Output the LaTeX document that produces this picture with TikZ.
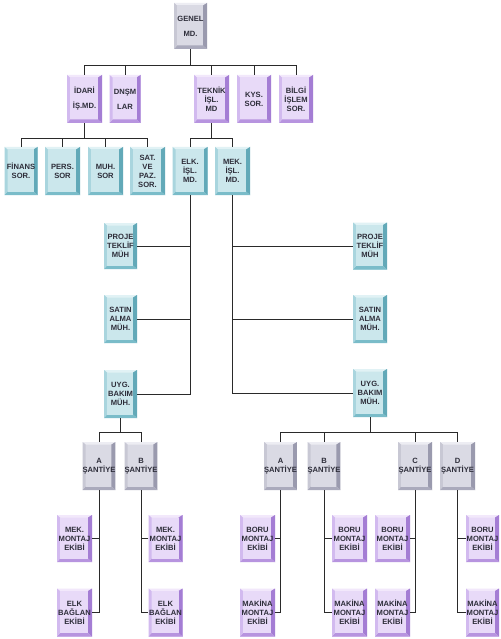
\documentclass[tikz,border=0pt]{standalone}
\usepackage{fontspec}
\setmainfont{Liberation Sans}
\definecolor{txt}{HTML}{2E2E3A}
\definecolor{ln}{HTML}{2A2A2A}
% gray
\definecolor{grF}{HTML}{DADAE4}
\definecolor{grT}{HTML}{EDEDF3}
\definecolor{grL}{HTML}{C8C8D4}
\definecolor{grR}{HTML}{9A9AAE}
\definecolor{grB}{HTML}{AAAABC}
% purple
\definecolor{puF}{HTML}{E8DAF8}
\definecolor{puT}{HTML}{F2E8FB}
\definecolor{puL}{HTML}{D2BAEF}
\definecolor{puR}{HTML}{A47DD4}
\definecolor{puB}{HTML}{B794DF}
% cyan
\definecolor{cyF}{HTML}{CBE7EC}
\definecolor{cyT}{HTML}{E1F2F5}
\definecolor{cyL}{HTML}{A9D5DE}
\definecolor{cyR}{HTML}{62A9B8}
\definecolor{cyB}{HTML}{7ABCC9}
\newcommand\bevelpic[1]{%
 \coordinate (bNW) at (path picture bounding box.north west);
 \coordinate (bSE) at (path picture bounding box.south east);
 \coordinate (bNE) at (path picture bounding box.north east);
 \coordinate (bSW) at (path picture bounding box.south west);
 \coordinate (iNW) at ([xshift=3pt,yshift=-2.5pt]bNW);
 \coordinate (iNE) at ([xshift=-4pt,yshift=-2.5pt]bNE);
 \coordinate (iSE) at ([xshift=-4pt,yshift=3.5pt]bSE);
 \coordinate (iSW) at ([xshift=3pt,yshift=3.5pt]bSW);
 \fill[#1T] (bNW)--(bNE)--(iNE)--(iNW)--cycle;
 \fill[#1R] (bNE)--(bSE)--(iSE)--(iNE)--cycle;
 \fill[#1B] (bSE)--(bSW)--(iSW)--(iSE)--cycle;
 \fill[#1L] (bSW)--(bNW)--(iNW)--(iSW)--cycle;
 \fill[#1F] (iNW) rectangle (iSE);
}
\newcommand\lbl{\fontsize{7.6}{9}\selectfont\bfseries}
\newcommand\lblw{\fontsize{7.6}{15}\selectfont\bfseries}
\tikzset{
 bx/.style={rectangle, minimum width=34pt, minimum height=48pt, inner sep=0pt,
   align=center, font=\lbl, text=txt, fill=#1F, path picture={\bevelpic{#1}}},
 gbox/.style={bx=gr},
 pbox/.style={bx=pu},
 cbox/.style={bx=cy},
 conn/.style={draw=ln, line width=0.8pt}
}
\begin{document}
\begin{tikzpicture}[x=1pt,y=-1pt]
\fill[white] (0,0) rectangle (500,639);
\useasboundingbox (0,0) rectangle (500,639);
% level 1
\node[gbox, minimum width=33pt, minimum height=46pt, font=\lblw] (gen) at (190.5,26) {GENEL\\MD.};
% level 2
\node[pbox, minimum width=35pt, font=\lblw] (idari) at (84.5,99) {İDARİ\\İŞ.MD.};
\node[pbox, minimum width=31pt, font=\lblw] (dnsm) at (125,99) {DNŞM\\LAR};
\node[pbox, minimum width=35pt] (teknik) at (211.5,99) {TEKNİK\\İŞL.\\MD};
\node[pbox] (kys) at (254,99) {KYS.\\SOR.};
\node[pbox] (bilgi) at (296,99) {BİLGİ\\İŞLEM\\SOR.};
% level 3
\node[cbox, minimum width=33pt] (finans) at (21,171) {FİNANS\\SOR.};
\node[cbox, minimum width=35pt] (pers) at (62.5,171) {PERS.\\SOR};
\node[cbox, minimum width=35pt] (muh) at (105.5,171) {MUH.\\SOR};
\node[cbox, minimum width=35pt] (sat) at (147.5,171) {SAT.\\VE\\PAZ.\\SOR.};
\node[cbox, minimum width=35pt] (elk) at (190,171) {ELK.\\İŞL.\\MD.};
\node[cbox, minimum width=35pt] (mek) at (232.5,171) {MEK.\\İŞL.\\MD.};
% columns
\node[cbox, minimum width=33pt, minimum height=46pt] (projeL) at (120.5,246) {PROJE\\TEKLİF\\MÜH};
\node[cbox, minimum width=33pt] (satinL) at (120.5,319) {SATIN\\ALMA\\MÜH.};
\node[cbox, minimum width=33pt] (uygL) at (120.5,394) {UYG.\\BAKIM\\MÜH.};
\node[cbox, minimum width=34pt, minimum height=47pt] (projeR) at (370,246) {PROJE\\TEKLİF\\MÜH};
\node[cbox, minimum width=34pt] (satinR) at (370,319) {SATIN\\ALMA\\MÜH.};
\node[cbox, minimum width=34pt] (uygR) at (370,393) {UYG.\\BAKIM\\MÜH.};
% santiye
\node[gbox, minimum width=32pt] (aL) at (99,466) {A\\ŞANTİYE};
\node[gbox, minimum width=32pt] (bL) at (141,466) {B\\ŞANTİYE};
\node[gbox, minimum width=32pt] (aR) at (280.5,466) {A\\ŞANTİYE};
\node[gbox, minimum width=32pt] (bR) at (324,466) {B\\ŞANTİYE};
\node[gbox, minimum width=34pt] (cR) at (415,466) {C\\ŞANTİYE};
\node[gbox, minimum width=35pt] (dR) at (457.5,466) {D\\ŞANTİYE};
% teams
\node[pbox, minimum width=35pt, minimum height=47pt] (mekL1) at (74.5,538.5) {MEK.\\MONTAJ\\EKİBİ};
\node[pbox, minimum width=35pt] (elkL1) at (74.5,612.5) {ELK\\BAĞLAN\\EKİBİ};
\node[pbox, minimum width=34pt, minimum height=47pt] (mekL2) at (165.5,538.5) {MEK.\\MONTAJ\\EKİBİ};
\node[pbox, minimum width=34pt] (elkL2) at (165.5,612.5) {ELK\\BAĞLAN\\EKİBİ};
\node[pbox, minimum width=35pt, minimum height=47pt] (boruA) at (257.5,538.5) {BORU\\MONTAJ\\EKİBİ};
\node[pbox, minimum width=35pt] (makA) at (257.5,612.5) {MAKİNA\\MONTAJ\\EKİBİ};
\node[pbox, minimum width=35pt, minimum height=47pt] (boruB) at (349.5,538.5) {BORU\\MONTAJ\\EKİBİ};
\node[pbox, minimum width=35pt] (makB) at (349.5,612.5) {MAKİNA\\MONTAJ\\EKİBİ};
\node[pbox, minimum width=35pt, minimum height=47pt] (boruC) at (392.5,538.5) {BORU\\MONTAJ\\EKİBİ};
\node[pbox, minimum width=35pt] (makC) at (392.5,612.5) {MAKİNA\\MONTAJ\\EKİBİ};
\node[pbox, minimum width=33pt, minimum height=47pt] (boruD) at (482.5,538.5) {BORU\\MONTAJ\\EKİBİ};
\node[pbox, minimum width=33pt] (makD) at (482.5,612.5) {MAKİNA\\MONTAJ\\EKİBİ};
% bus coordinates
\coordinate (bus1) at (190.5,65);
\coordinate (bus2) at (0,138);
\coordinate (busL) at (120.5,432);
\coordinate (busR) at (369,432);
% connectors level 1-2
\draw[conn] (gen.south) -- (bus1);
\draw[conn] (idari.north) -- (idari.north |- bus1) -- (bilgi.north |- bus1) -- (bilgi.north);
\draw[conn] (dnsm.north) -- (dnsm.north |- bus1);
\draw[conn] (teknik.north) -- (teknik.north |- bus1);
\draw[conn] (kys.north) -- (kys.north |- bus1);
% idari children
\draw[conn] (idari.south) -- (idari.south |- bus2);
\draw[conn] (finans.north) -- (finans.north |- bus2) -- (sat.north |- bus2) -- (sat.north);
\draw[conn] (pers.north) -- (pers.north |- bus2);
\draw[conn] (muh.north) -- (muh.north |- bus2);
% teknik children
\draw[conn] (teknik.south) -- (teknik.south |- bus2);
\draw[conn] (elk.north) -- (elk.north |- bus2) -- (mek.north |- bus2) -- (mek.north);
% elk column
\draw[conn] (elk.south) |- (uygL.east);
\draw[conn] (projeL.east) -- (projeL.east -| elk.south);
\draw[conn] (satinL.east) -- (satinL.east -| elk.south);
% mek column
\draw[conn] (mek.south) |- (uygR.west);
\draw[conn] (projeR.west) -- (projeR.west -| mek.south);
\draw[conn] (satinR.west) -- (satinR.west -| mek.south);
% santiye buses
\draw[conn] (uygL.south) -- (busL);
\draw[conn] (aL.north) -- (aL.north |- busL) -- (bL.north |- busL) -- (bL.north);
\draw[conn] (uygR.south) -- (uygR.south |- busR);
\draw[conn] (aR.north) -- (aR.north |- busR) -- (dR.north |- busR) -- (dR.north);
\draw[conn] (bR.north) -- (bR.north |- busR);
\draw[conn] (cR.north) -- (cR.north |- busR);
% teams
\draw[conn] (aL.south) |- (elkL1.east);
\draw[conn] (mekL1.east) -- (mekL1.east -| aL.south);
\draw[conn] (bL.south) |- (elkL2.west);
\draw[conn] (mekL2.west) -- (mekL2.west -| bL.south);
\draw[conn] (aR.south) |- (makA.east);
\draw[conn] (boruA.east) -- (boruA.east -| aR.south);
\draw[conn] (bR.south) |- (makB.west);
\draw[conn] (boruB.west) -- (boruB.west -| bR.south);
\draw[conn] (cR.south) |- (makC.east);
\draw[conn] (boruC.east) -- (boruC.east -| cR.south);
\draw[conn] (dR.south) |- (makD.west);
\draw[conn] (boruD.west) -- (boruD.west -| dR.south);
\end{tikzpicture}
\end{document}
